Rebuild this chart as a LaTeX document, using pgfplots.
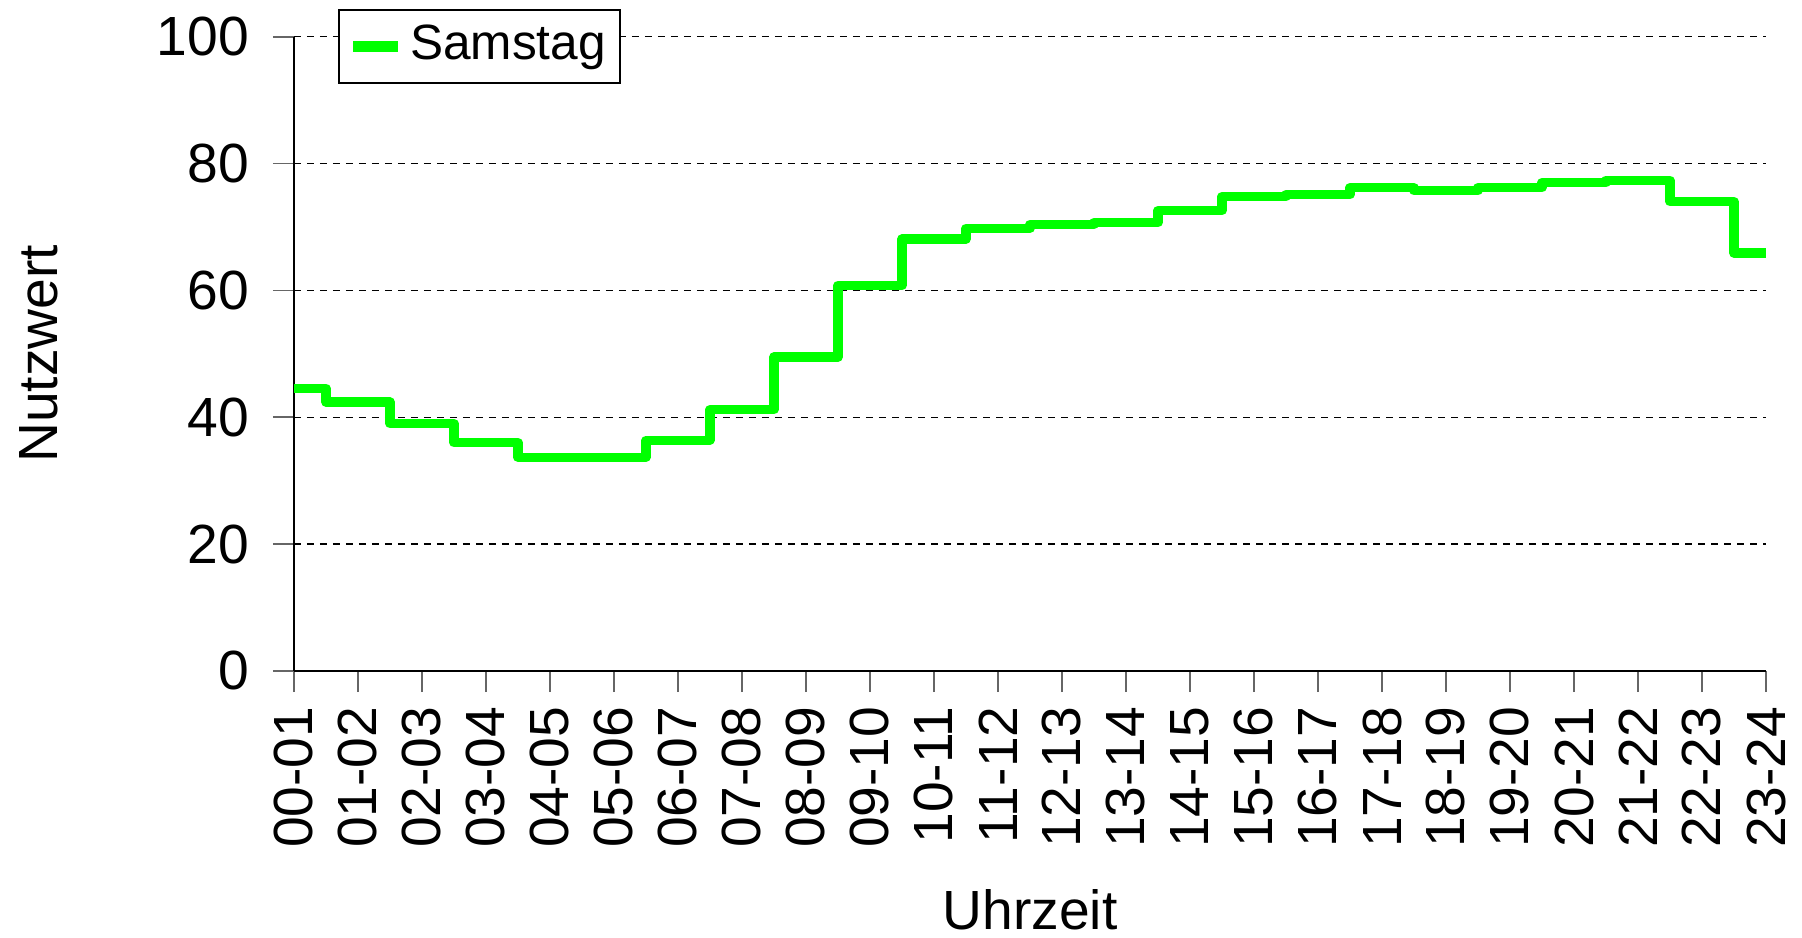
\documentclass[border=0pt]{standalone}
\usepackage{fontspec}
\setmainfont{Liberation Sans}
\usepackage{pgfplots}
\pgfplotsset{compat=1.18}
\definecolor{samgreen}{RGB}{0,255,0}
\begin{document}
\fontsize{13.8}{16.5}\selectfont
\begin{tikzpicture}
\path (0,0) rectangle (450.5pt,234.5pt);
\begin{axis}[
  at={(73.5pt,66.75pt)}, anchor=south west,
  scale only axis, width=368pt, height=158.55pt,
  xmin=0, xmax=23, ymin=0, ymax=100,
  axis lines=left,
  axis line style={-, line width=0.6pt, black},
  xtick={0,...,23},
  xticklabels={00-01,01-02,02-03,03-04,04-05,05-06,06-07,07-08,08-09,09-10,10-11,11-12,12-13,13-14,14-15,15-16,16-17,17-18,18-19,19-20,20-21,21-22,22-23,23-24},
  xticklabel style={rotate=90, anchor=east, inner sep=0pt},
  xticklabel shift=3.4pt,
  ytick={0,20,40,60,80,100},
  yticklabel style={anchor=east, inner sep=0pt},
  yticklabel shift=5.8pt,
  /pgf/number format/assume math mode=true,
  tick align=outside,
  major tick length=5.3pt,
  tick style={black!60, line width=0.4pt},
  ymajorgrids,
  grid style={black, line width=0.35pt, dash pattern=on 1.75pt off 1.5pt},
  xlabel={Uhrzeit}, ylabel={Nutzwert},
  xlabel style={at={(axis description cs:0.5,-0.3769)}, anchor=center, inner sep=0pt},
  ylabel style={at={(axis description cs:-0.1731,0.5)}, anchor=center, inner sep=0pt},
  clip=false,
  legend style={at={(axis description cs:0.0302,1.0441)}, anchor=north west,
    draw=black, line width=0.5pt, inner xsep=2pt, inner ysep=2.3pt,
    nodes={inner sep=1.5pt}, fill=white, font=\fontsize{12.4}{14.8}\selectfont},
  legend cell align=left,
  legend image code/.code={\draw[#1, line width=2.9pt, line cap=butt] (0pt,0pt) -- (11.25pt,0pt);},
]
\addplot[const plot mark mid, samgreen, line width=2.3pt, line join=round, line cap=butt] coordinates {
(0,44.6) (1,42.4) (2,39.0) (3,36.0) (4,33.7) (5,33.7) (6,36.4) (7,41.2)
(8,49.5) (9,60.8) (10,68.1) (11,69.8) (12,70.4) (13,70.7) (14,72.6) (15,74.8)
(16,75.1) (17,76.2) (18,75.7) (19,76.2) (20,77.0) (21,77.4) (22,74.0) (23,65.9)
};
\addlegendentry{Samstag\hspace{1.5pt}}
\end{axis}
\end{tikzpicture}
\end{document}
